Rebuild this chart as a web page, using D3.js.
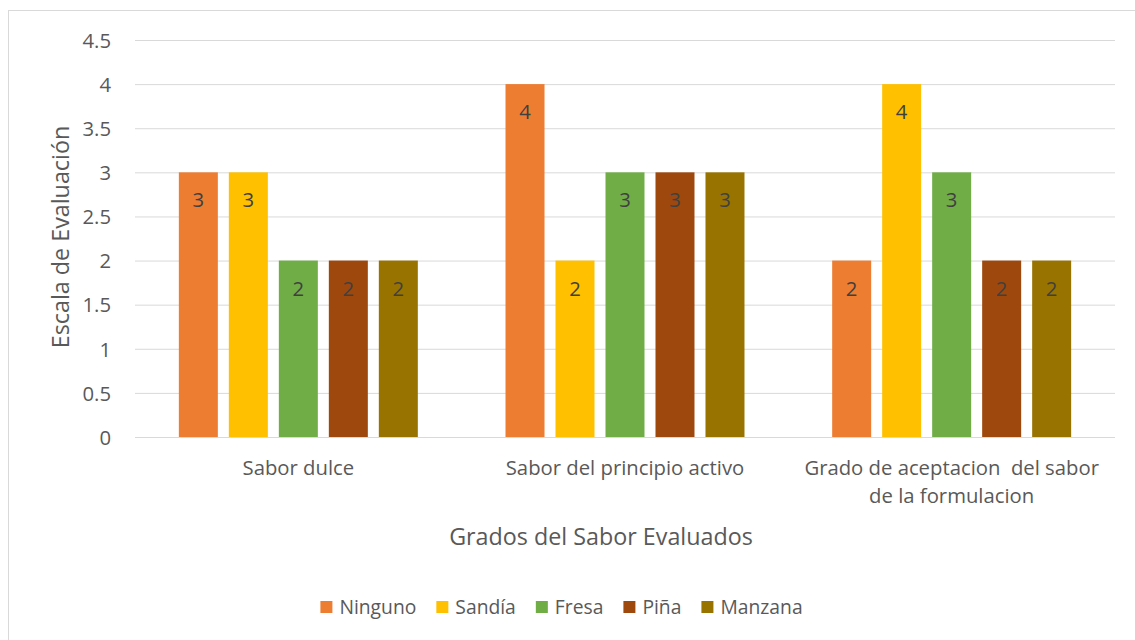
<!DOCTYPE html>
<html>
<head>
<meta charset="utf-8">
<script src="https://cdn.jsdelivr.net/npm/d3@7"></script>
<style>
  html, body { margin: 0; padding: 0; background: #fff; }
  svg { display: block; }
  svg text { font-family: "Open Sans", Lato, sans-serif; white-space: pre; }
</style>
</head>
<body>
<svg id="chart" width="1135" height="640"></svg>
<script>
// Categories (x axis) and the rating given by each flavour series
const categories = ["Sabor dulce", "Sabor del principio activo", "Grado de aceptacion  del sabor de la formulacion"];
const categoryLines = [["Sabor dulce"], ["Sabor del principio activo"], ["Grado de aceptacion  del sabor", "de la formulacion"]];
const seriesNames = ["Ninguno", "Sandía", "Fresa", "Piña", "Manzana"];
const ninguno = [3, 4, 2];
const sandia  = [3, 2, 4];
const fresa   = [2, 3, 3];
const pina    = [2, 3, 2];
const manzana = [2, 3, 2];
const yTicks = [0, 0.5, 1, 1.5, 2, 2.5, 3, 3.5, 4, 4.5];
const colors = ["#ED7D31", "#FFC000", "#70AD47", "#9E480E", "#997300"];

const seriesValues = [ninguno, sandia, fresa, pina, manzana];
const rows = categories.map((c, i) => ({
  cat: c,
  values: seriesNames.map((s, j) => ({ series: s, value: seriesValues[j][i] }))
}));

const FS = "20.3px";
const LEG_FS = "19.3px";
const TITLE_FS = "23.3px";
const svg = d3.select("#chart");

// outer chart frame
svg.append("rect")
  .attr("x", 8.5).attr("y", 10.5)
  .attr("width", 1140).attr("height", 640)
  .attr("fill", "#fff").attr("stroke", "#D9D9D9").attr("stroke-width", 1);

const plot = { left: 135, right: 1115, top: 40, bottom: 437 };

const y = d3.scaleLinear().domain([0, 4.5]).range([plot.bottom, plot.top]);
const x0 = d3.scaleBand().domain(categories).range([plot.left, plot.right]).padding(0);
const x1 = d3.scaleBand().domain(seriesNames).range([0, x0.bandwidth()])
  .paddingInner(0.22).paddingOuter(0.877);
const color = d3.scaleOrdinal().domain(seriesNames).range(colors);

// gridlines and y tick labels
const yAxis = d3.axisLeft(y).tickValues(yTicks).tickSize(-(plot.right - plot.left)).tickFormat(d3.format("~g"));
const gy = svg.append("g").attr("transform", `translate(${plot.left},0)`).call(yAxis);
gy.attr("font-family", null);
gy.select(".domain").remove();
gy.selectAll(".tick line").attr("stroke", "#D9D9D9").attr("stroke-width", 1);
gy.selectAll(".tick text")
  .attr("x", -24).attr("dy", "0.36em").attr("fill", "#595959")
  .style("font-size", FS);

// bars
const groups = svg.append("g").selectAll("g")
  .data(rows).join("g")
  .attr("transform", d => `translate(${x0(d.cat)},0)`);

groups.selectAll("rect")
  .data(d => d.values).join("rect")
  .attr("x", d => x1(d.series))
  .attr("y", d => y(d.value))
  .attr("width", x1.bandwidth())
  .attr("height", d => y(0) - y(d.value))
  .attr("fill", d => color(d.series));

// value labels inside bar tops
groups.selectAll("text.val")
  .data(d => d.values).join("text")
  .attr("class", "val")
  .attr("x", d => x1(d.series) + x1.bandwidth() / 2)
  .attr("y", d => y(d.value) + 35)
  .attr("text-anchor", "middle")
  .attr("fill", "#404040")
  .style("font-size", FS)
  .text(d => d.value);

// x axis category labels
const xAxis = d3.axisBottom(x0).tickSize(0).tickFormat(() => "");
const gx = svg.append("g").attr("transform", `translate(0,${plot.bottom})`).call(xAxis);
gx.attr("font-family", null);
gx.select(".domain").remove();
gx.selectAll(".tick").each(function(d, i) {
  const t = d3.select(this).append("text")
    .attr("text-anchor", "middle")
    .attr("fill", "#595959")
    .style("font-size", FS);
  categoryLines[i].forEach((line, k) => {
    t.append("tspan").attr("x", 0).attr("y", 38 + k * 28).text(line);
  });
});

// axis titles
svg.append("text")
  .attr("x", (plot.left + plot.right) / 2 - 24).attr("y", 545)
  .attr("text-anchor", "middle").attr("fill", "#595959")
  .style("font-size", TITLE_FS)
  .text("Grados del Sabor Evaluados");

svg.append("text")
  .attr("transform", `translate(69,237) rotate(-90)`)
  .attr("text-anchor", "middle").attr("fill", "#595959")
  .style("font-size", TITLE_FS)
  .text("Escala de Evaluación");

// legend
const legend = svg.append("g").attr("transform", "translate(0,607)");
const items = legend.selectAll("g").data(seriesNames).join("g");
items.append("rect")
  .attr("y", -6).attr("width", 12).attr("height", 12)
  .attr("fill", d => color(d));
items.append("text")
  .attr("x", 19).attr("y", 7)
  .attr("fill", "#595959")
  .style("font-size", LEG_FS)
  .text(d => d);
let widths = [];
items.each(function() { widths.push(19 + this.querySelector("text").getComputedTextLength()); });
const gap = 20;
const total = d3.sum(widths) + gap * (widths.length - 1);
let cx = 561.5 - total / 2;
items.attr("transform", (d, i) => {
  const t = `translate(${cx},0)`;
  cx += widths[i] + gap;
  return t;
});
</script>
</body>
</html>
